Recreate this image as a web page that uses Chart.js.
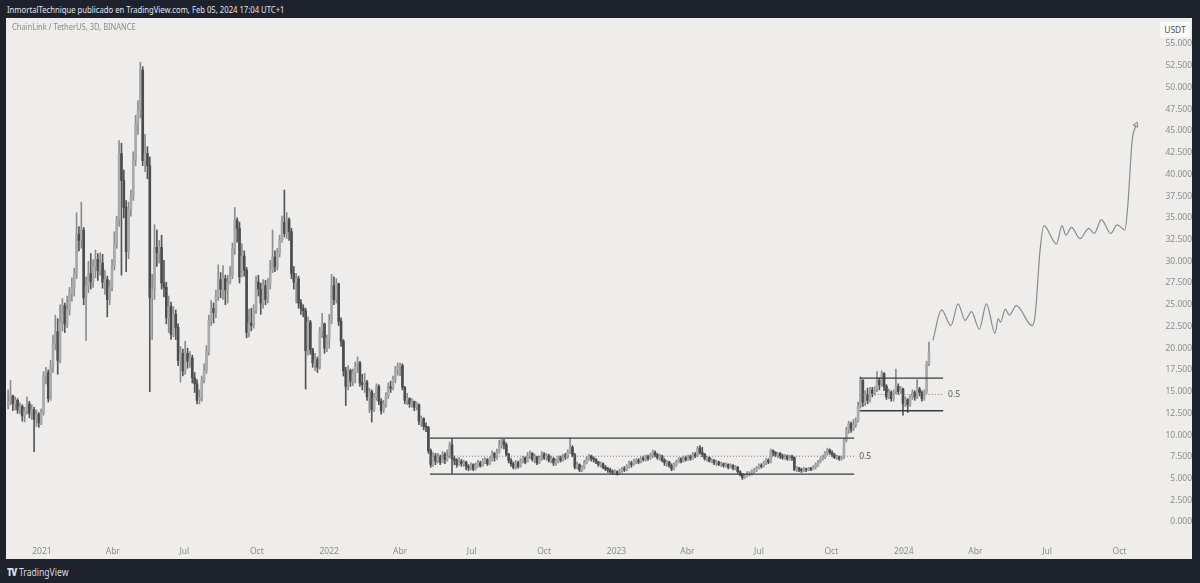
<!DOCTYPE html>
<html>
<head>
<meta charset="utf-8">
<script src="https://cdn.jsdelivr.net/npm/chart.js@4.4.1/dist/chart.umd.min.js"></script>
<style>
  body { margin:0; width:1200px; height:583px; overflow:hidden; background:#1e222d; position:relative; font-family:"Noto Sans", sans-serif; }
  #hdr { position:absolute; left:7px; top:3px; color:#e3e5ea; font-size:9.5px; white-space:nowrap; transform:scaleX(0.81); transform-origin:0 0; }
  #panel { position:absolute; left:6px; top:18px; width:1186px; height:541px; background:#eeedeb; }
  #c { position:absolute; left:0; top:0; }
  #sym { position:absolute; left:6px; top:3px; color:#8a8a8a; font-size:8.5px; white-space:nowrap; transform:scaleX(0.885); transform-origin:0 0; }
  #unit { position:absolute; left:1154px; top:4px; width:30px; height:15px; background:#fafafa; color:#555; font-size:8.5px; line-height:15px; text-align:center; }
  #logo { position:absolute; left:7px; top:565px; color:#d8dbe2; font-size:10px; white-space:nowrap; transform:scaleX(0.86); transform-origin:0 0; }
  #logo b { font-weight:900; letter-spacing:-1px; margin-right:3px; }
</style>
</head>
<body>
<div id="hdr">InmortalTechnique publicado en TradingView.com, Feb 05, 2024 17:04 UTC+1</div>
<div id="panel">
  <canvas id="c" width="1186" height="541"></canvas>
  <div id="sym">ChainLink / TetherUS, 3D, BINANCE</div>
  <div id="unit">USDT</div>
</div>
<div id="logo"><b>TV</b>TradingView</div>
<script>
// 3D candles, days counted from 2021-01-01
const firstDay = -43;
const stepDays = 3;
const firstOpen = 13.4;

const closes = [
  13.8,14.5,13.6,14.0,12.9,13.3,12.2,12.8,13.6,12.5,
  12.9,11.8,12.4,11.4,12.6,16.8,17.2,14.2,17.9,20.5,
  21.9,18.6,23.0,24.9,22.8,24.4,26.3,26.9,28.6,33.1,
  32.4,33.6,25.8,27.2,28.6,27.7,29.4,30.2,28.9,29.8,
  27.6,27.9,25.6,27.0,29.5,32.0,34.8,42.4,39.3,36.2,
  31.1,36.0,37.5,41.6,45.9,47.4,52.0,41.6,42.4,41.0,
  25.8,26.8,31.6,31.0,31.6,27.5,27.0,23.5,24.8,21.6,
  23.9,22.4,18.6,19.4,17.4,19.4,18.5,18.9,16.6,15.9,
  14.0,14.3,16.3,17.4,19.6,23.2,24.6,24.1,26.0,27.9,
  26.8,28.0,26.7,27.6,28.3,31.5,34.7,33.8,28.2,30.6,
  29.0,21.8,22.9,22.6,24.4,27.6,26.8,25.2,27.2,25.6,
  27.4,29.0,30.5,29.4,30.9,32.4,34.5,33.2,34.8,33.4,
  28.6,27.6,28.0,25.2,24.6,24.3,19.7,23.0,19.8,18.3,
  18.7,17.8,22.0,22.8,20.0,21.2,23.2,27.2,25.6,27.4,
  23.1,20.8,17.4,15.6,17.4,16.2,17.2,17.9,18.3,16.0,
  15.8,16.1,14.4,15.0,12.9,14.3,15.6,13.9,12.8,13.6,
  14.5,15.6,15.4,16.4,17.5,17.9,18.0,15.5,14.0,14.2,
  13.6,13.9,13.2,13.5,11.6,11.9,11.0,10.9,8.2,6.6,
  7.6,7.0,7.5,6.9,7.8,7.2,7.6,8.9,7.3,7.1,
  6.6,7.0,6.7,6.9,6.4,6.2,6.6,6.1,6.5,6.8,
  6.5,7.0,7.2,6.7,7.3,7.9,7.4,8.1,8.8,9.3,
  8.9,7.8,7.1,6.7,6.3,6.8,6.4,7.0,7.4,6.9,
  7.6,7.9,7.2,7.5,6.8,7.3,7.8,7.4,7.6,7.1,
  7.3,6.8,7.0,7.4,7.1,7.6,7.5,8.1,8.6,7.7,
  6.3,6.6,6.0,6.3,6.8,7.3,7.6,7.3,7.2,6.9,
  6.6,6.7,6.3,6.1,6.0,5.8,5.7,5.8,5.6,5.9,
  6.1,6.0,6.4,6.8,6.6,6.9,7.1,6.9,7.3,7.2,
  7.5,7.3,7.6,8.0,7.7,7.4,7.6,7.1,6.8,6.9,
  6.5,6.1,6.6,6.9,7.2,7.0,7.4,7.2,7.5,7.3,
  7.8,7.6,8.5,8.0,7.8,7.3,7.4,7.0,7.1,6.8,
  6.9,6.6,6.7,6.5,6.6,6.3,6.5,6.2,6.3,5.8,
  5.5,5.1,5.3,5.5,5.6,5.8,6.0,6.2,6.5,6.4,
  6.8,7.1,6.9,8.2,8.0,7.7,7.9,7.6,7.4,7.6,
  7.3,7.5,7.4,6.0,6.2,6.0,5.9,6.1,6.0,6.2,
  6.1,6.3,6.6,6.9,7.2,7.5,7.9,8.3,8.0,7.7,
  7.4,7.5,7.3,7.4,9.4,10.6,11.3,10.7,11.2,11.6,
  13.3,16.3,13.8,14.6,14.0,15.2,14.8,15.3,16.3,15.8,
  17.1,15.6,14.4,14.9,14.2,15.0,15.6,15.0,15.3,13.6,
  14.1,13.5,14.4,14.9,14.4,15.3,14.9,14.2,14.9,18.2,
  19.5
];
const highs = [
  15.2,16.3,14.6,14.4,14.2,13.7,13.5,13.2,14.4,13.9,
  13.5,13.2,12.9,12.6,13.0,17.3,17.8,17.5,18.6,21.5,
  23.8,23.4,25.0,25.7,25.2,26.0,27.0,28.1,29.2,35.6,
  34.0,36.8,33.9,28.2,30.0,30.9,30.2,31.3,30.9,31.0,
  30.8,29.0,28.3,27.8,30.2,33.4,35.2,43.9,43.6,40.5,
  37.0,36.8,38.2,42.6,46.8,48.5,52.9,52.4,44.6,43.2,
  42.0,28.5,34.2,33.6,32.4,33.0,30.1,27.6,26.0,25.3,
  24.8,24.4,22.8,20.2,19.9,20.8,20.0,19.6,19.2,17.2,
  16.4,15.2,16.8,18.2,20.3,23.8,25.5,25.2,26.7,29.6,
  28.7,29.5,28.4,28.4,29.4,32.1,36.2,35.0,34.5,32.0,
  31.2,29.3,24.5,24.6,25.0,28.3,28.4,27.5,27.9,27.8,
  28.0,30.1,33.6,31.2,31.5,33.0,35.2,38.2,35.6,35.0,
  33.8,29.4,28.6,28.3,25.6,25.0,24.6,23.6,23.2,20.0,
  19.4,19.0,22.4,24.0,22.9,21.5,23.9,28.5,28.2,28.0,
  27.5,23.5,21.0,17.8,18.0,17.6,17.6,18.4,19.0,18.5,
  17.0,17.1,16.3,15.4,15.2,14.8,15.9,15.8,14.2,14.0,
  14.9,16.0,16.2,16.8,17.9,18.3,18.3,18.2,15.6,14.8,
  14.3,14.2,13.9,13.8,13.6,12.2,12.0,11.4,11.0,8.4,
  8.0,7.9,7.9,7.7,8.1,8.0,8.3,9.2,9.6,7.6,
  7.3,7.4,7.2,7.1,7.0,6.6,6.8,6.7,6.8,7.1,
  7.0,7.3,7.4,7.3,7.5,8.2,8.0,8.4,9.4,9.6,
  9.5,9.1,7.9,7.3,6.9,7.1,7.0,7.3,7.6,7.5,
  8.0,8.2,8.0,7.8,7.6,7.6,8.1,8.0,7.9,7.8,
  7.6,7.4,7.3,7.6,7.6,7.8,7.9,8.3,9.7,8.8,
  7.9,6.9,6.7,6.5,7.1,7.5,7.8,7.7,7.5,7.3,
  7.0,6.9,6.8,6.5,6.3,6.2,6.0,6.0,5.9,6.1,
  6.3,6.4,6.6,7.0,7.0,7.2,7.3,7.3,7.5,7.6,
  7.7,7.7,7.9,8.3,8.2,7.9,7.8,7.7,7.3,7.1,
  7.0,6.7,6.8,7.1,7.4,7.4,7.6,7.6,7.7,7.7,
  8.0,8.0,8.7,8.8,8.6,7.9,7.6,7.5,7.3,7.2,
  7.1,7.0,6.9,6.8,6.8,6.7,6.7,6.6,6.5,6.4,
  5.9,5.6,5.5,5.8,5.8,6.0,6.2,6.4,6.7,6.7,
  7.0,7.3,7.3,8.4,8.3,8.1,8.0,8.0,7.8,7.8,
  7.7,7.7,7.7,7.5,6.4,6.3,6.2,6.3,6.2,6.3,
  6.3,6.5,6.8,7.1,7.4,7.7,8.1,8.5,8.4,8.2,
  7.9,7.7,7.6,7.6,9.6,10.9,11.6,11.5,11.8,12.0,
  13.8,16.7,16.4,15.1,15.4,15.5,15.5,15.6,17.3,16.6,
  17.4,17.2,15.8,15.3,15.1,15.2,17.6,15.9,15.6,15.4,
  14.4,14.2,14.6,15.2,15.1,16.4,15.5,15.1,15.2,18.5,
  20.7
];
const lows = [
  13.0,13.5,12.8,12.9,12.5,12.4,11.6,11.5,12.4,12.0,
  11.8,8.1,11.0,10.9,11.2,12.3,15.9,13.8,14.0,17.2,
  19.8,17.0,18.3,22.0,21.8,22.4,23.8,25.4,26.0,28.0,
  31.2,31.5,25.0,20.9,26.4,26.8,27.0,28.1,27.8,28.4,
  26.9,26.2,23.6,25.0,26.6,29.0,31.5,34.0,28.4,35.0,
  28.8,30.3,35.2,37.0,41.0,44.6,46.5,41.0,40.3,39.5,
  15.0,21.0,25.6,29.4,29.8,26.8,25.9,22.8,21.8,21.0,
  21.3,21.0,18.0,16.1,16.8,17.0,17.7,17.8,16.0,14.9,
  13.6,13.6,13.9,16.0,17.1,19.2,22.6,22.9,23.5,25.5,
  25.8,25.6,25.0,25.2,27.4,28.0,30.8,32.2,27.5,28.2,
  28.3,21.2,21.3,22.0,22.3,24.0,26.0,23.9,24.6,25.0,
  25.2,26.8,28.7,28.8,29.0,30.5,32.2,32.8,32.6,32.4,
  28.0,26.8,25.2,24.6,23.9,23.6,15.3,19.2,19.3,17.8,
  17.4,17.2,17.6,21.2,19.4,19.6,20.0,22.8,25.0,25.2,
  22.6,20.2,16.8,13.4,15.2,15.6,15.7,16.0,17.2,15.6,
  15.2,14.9,14.0,12.6,11.5,12.7,14.0,13.5,12.4,12.6,
  13.2,14.2,14.9,15.2,16.0,16.9,16.8,15.2,13.6,13.5,
  13.2,13.2,12.8,12.9,11.2,11.0,10.6,10.4,7.9,6.3,
  6.4,6.6,6.8,6.6,6.8,6.7,7.0,7.4,5.6,6.6,
  6.3,6.5,6.4,6.4,6.0,5.9,6.0,5.9,6.0,6.3,
  6.3,6.4,6.7,6.5,6.6,7.0,7.0,7.2,7.9,8.5,
  8.4,7.6,6.8,6.4,6.1,6.1,6.2,6.3,6.8,6.7,
  6.9,7.3,7.0,6.8,6.6,6.7,7.1,7.2,7.1,6.9,
  6.8,6.5,6.5,6.8,6.9,7.0,7.2,7.3,7.9,7.5,
  6.1,6.1,5.8,5.8,6.1,6.7,7.1,7.0,6.9,6.7,
  6.4,6.3,6.1,5.9,5.7,5.6,5.5,5.5,5.4,5.5,
  5.7,5.8,5.9,6.2,6.3,6.5,6.7,6.7,6.8,7.0,
  7.0,7.1,7.2,7.4,7.5,7.2,7.1,6.9,6.5,6.4,
  6.3,5.9,6.0,6.4,6.8,6.8,6.9,7.0,7.1,7.1,
  7.2,7.4,7.5,7.8,7.5,7.1,7.0,6.9,6.8,6.6,
  6.5,6.5,6.4,6.3,6.3,6.1,6.2,6.0,6.0,5.6,
  5.3,4.9,5.0,5.2,5.3,5.4,5.6,5.8,6.1,6.2,
  6.3,6.6,6.7,6.8,7.6,7.5,7.4,7.3,7.2,7.2,
  7.1,7.1,7.1,5.9,5.8,5.8,5.7,5.8,5.8,5.9,
  5.9,6.0,6.1,6.4,6.8,7.1,7.3,7.7,7.8,7.5,
  7.3,7.2,7.1,7.1,7.3,9.2,10.2,10.3,10.5,10.9,
  11.5,13.1,13.3,13.4,13.6,13.8,14.4,14.6,15.0,15.2,
  15.6,15.1,14.1,14.2,13.9,13.9,14.8,14.7,14.8,12.3,
  13.3,12.6,13.3,14.1,14.0,14.2,14.5,13.9,14.0,14.8,
  18.0
];

// hand-drawn projection path
const projDays = [1132,1143,1155,1164,1173,1181,1191,1200,1211,1215,1218,1224,1229,1238,1258,1262,1268,1273,1289,1296,1301,1308,1319,1330,1337,1346,1358,1366,1376,1380,1385,1390];
const projPrices = [20.9,24.4,22.6,25.1,23.2,24.2,22.2,25.1,21.7,23.4,23.0,24.5,23.8,24.9,22.6,23.8,31.1,34.1,32.0,34.1,33.0,33.9,32.6,33.8,33.2,34.8,33.2,34.2,33.6,36.8,43.7,45.7];

// fib retracement boxes (levels 1 / 0.5 / 0)
const fibFrom = [493, 1039];
const fibTo = [1032, 1145];
const fibHigh = [9.65, 16.55];
const fibMid = [7.57, 14.68];
const fibLow = [5.5, 12.8];

const tickDays = [0,90,181,273,365,455,546,638,730,820,911,1003,1095,1186,1277,1369];
const tickLabels = ['2021','Abr','Jul','Oct','2022','Abr','Jul','Oct','2023','Abr','Jul','Oct','2024','Abr','Jul','Oct'];
const priceTicks = [0,2.5,5,7.5,10,12.5,15,17.5,20,22.5,25,27.5,30,32.5,35,37.5,40,42.5,45,47.5,50,52.5,55];

const n = Math.min(closes.length, highs.length, lows.length);
const days = [], opens = [];
for (let i = 0; i < n; i++) {
    days.push(firstDay + i * stepDays);
    opens.push(i ? closes[i - 1] : firstOpen);
}
const isUp = i => closes[i] >= opens[i];

const fibSets = [];
fibFrom.forEach((f, i) => {
    const seg = (v, col, w, dash) => ({
        type:'line', order:0, data:[{x:f, y:v}, {x:fibTo[i], y:v}],
        borderColor:col, borderWidth:w, borderDash:dash, pointRadius:0
    });
    fibSets.push(seg(fibHigh[i], '#3a3a3a', 1.3, []));
    fibSets.push(seg(fibMid[i], '#7a7a7a', 1, [1, 2]));
    fibSets.push(seg(fibLow[i], '#3a3a3a', 1.3, []));
});

const fibText = {
    id:'fibText',
    afterDatasetsDraw(chart) {
        const {ctx, scales:{x, y}} = chart;
        ctx.save();
        ctx.font = '8.5px "Noto Sans"';
        ctx.fillStyle = '#555';
        ctx.textBaseline = 'middle';
        fibTo.forEach((d, i) => ctx.fillText('0.5', x.getPixelForValue(d) + 5, y.getPixelForValue(fibMid[i])));
        ctx.restore();
    }
};

const axisFont = {family:'Noto Sans', size:8.5};

new Chart(document.getElementById('c'), {
    type:'bar',
    data:{
        datasets:[
            { label:'wick', order:3, grouped:false, barThickness:1,
              data:days.map((d, i) => ({x:d, y:[lows[i], highs[i]]})),
              backgroundColor:ctx => isUp(ctx.dataIndex) ? '#8c8c8c' : '#555' },
            { label:'body', order:2, grouped:false, barThickness:2, minBarLength:1,
              data:days.map((d, i) => ({x:d, y:[opens[i], closes[i]]})),
              backgroundColor:ctx => isUp(ctx.dataIndex) ? '#a9a9a9' : '#4c4c4c' },
            { type:'line', label:'projection', order:1,
              data:projDays.map((d, i) => ({x:d, y:projPrices[i]})),
              borderColor:'#8a8a8a', borderWidth:1.2, cubicInterpolationMode:'monotone',
              pointRadius:projDays.map((d, i) => i === projDays.length - 1 ? 3 : 0),
              pointStyle:'triangle', pointRotation:25,
              pointBackgroundColor:'rgba(0,0,0,0)', pointBorderColor:'#8a8a8a', pointBorderWidth:1 },
            ...fibSets
        ]
    },
    options:{
        responsive:false, animation:false,
        layout:{padding:0, autoPadding:false},
        plugins:{legend:{display:false}, tooltip:{enabled:false}},
        scales:{
            x:{ type:'linear', min:-45.7, max:1410.4, offset:false, bounds:'data',
                grid:{display:false, drawTicks:false}, border:{display:false},
                afterBuildTicks:s => { s.ticks = tickDays.map(v => ({value:v})); },
                afterFit:s => { s.height = 22; },
                ticks:{autoSkip:false, maxRotation:0, padding:9, color:'#8c8c8c', font:axisFont,
                       callback:(v, i) => tickLabels[i]} },
            // range tuned so that 0 sits at y 520 and 55 at y 42 on the page
            y:{ type:'linear', position:'right', min:-1.726, max:56.49, bounds:'data', beginAtZero:false, grace:0,
                grid:{display:false, drawTicks:false}, border:{display:false},
                afterBuildTicks:s => { s.ticks = priceTicks.map(v => ({value:v})); },
                afterFit:s => { s.width = 40; },
                ticks:{autoSkip:false, crossAlign:'far', padding:8, color:'#8c8c8c', font:axisFont,
                       callback:v => v.toFixed(3)} }
        }
    },
    plugins:[fibText]
});
</script>
</body>
</html>
